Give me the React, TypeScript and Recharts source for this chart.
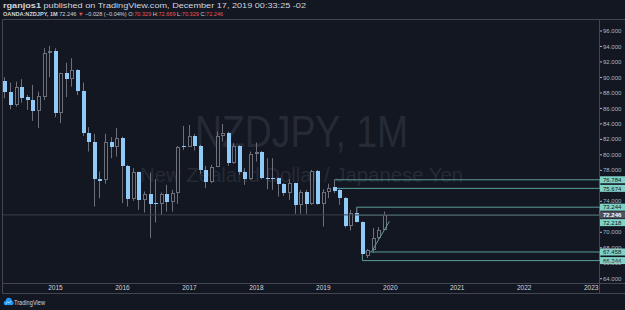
import React from 'react';
import { ComposedChart, Bar, XAxis, YAxis, ReferenceLine, ReferenceArea } from 'recharts';

// monthly candles, first one is April 2014
const FIRST_MONTH = 2014 + 3 / 12;

const opens = [
  89.59, 88.17, 86.45, 88.81, 87.45, 87.1, 85.68, 87.52, 93.12,
  93.46, 85.38, 90.54, 89.77, 90.97, 88.3, 82.88, 81.72, 76.9, 76.77, 81.72, 81.07,
  82.23, 78.58, 74.28, 77.77, 74.19, 74.97, 73.72, 73.59, 74.97, 73.85, 75.06, 81.16,
  81.07, 82.49, 81.16, 78.06, 76.55, 78.49, 82.49, 82.88, 78.93, 81.16, 77.85, 76.86,
  80.09, 80.43, 76.99, 77.0, 76.99, 76.26, 75.06, 76.35, 73.55, 75.26, 73.68, 77.97,
  73.68, 75.26, 75.83, 75.48, 74.41, 70.75, 72.48, 71.32, 66.97, 67.65, 69.25, 70.329,
];
const highs = [
  90.03, 89.33, 89.46, 89.77, 87.74, 89.03, 88.17, 93.77, 94.06,
  93.77, 90.62, 91.91, 92.48, 91.05, 89.33, 83.57, 82.71, 77.85, 82.71, 82.28, 83.45,
  82.35, 78.7, 78.28, 77.85, 75.26, 77.72, 76.86, 75.14, 76.13, 75.48, 81.16, 83.74,
  83.87, 82.71, 81.3, 78.58, 78.71, 83.01, 84.0, 83.01, 81.51, 81.25, 78.28, 80.43,
  81.59, 80.5, 79.57, 79.57, 77.05, 76.35, 76.86, 76.4, 75.48, 75.48, 78.06, 78.06,
  75.57, 76.26, 76.77, 75.55, 74.54, 72.9, 73.25, 71.39, 67.83, 70.54, 70.67, 72.669,
];
const lows = [
  87.32, 85.9, 86.23, 86.75, 85.81, 84.39, 83.45, 87.1, 90.03,
  84.86, 84.09, 87.45, 88.81, 87.74, 82.45, 80.43, 73.33, 74.41, 76.26, 79.57, 79.78,
  73.77, 73.33, 74.06, 72.9, 72.55, 69.25, 71.26, 72.26, 72.68, 72.68, 73.68, 80.65,
  80.99, 80.55, 77.55, 75.7, 76.35, 78.41, 81.72, 78.58, 78.84, 77.42, 76.13, 76.77,
  79.14, 76.86, 75.57, 75.48, 74.62, 74.71, 74.19, 72.39, 72.39, 72.39, 73.55, 73.55,
  70.75, 74.41, 75.06, 73.55, 70.6, 70.23, 71.26, 66.97, 66.67, 67.32, 69.12, 70.329,
];
const closes = [
  88.09, 86.45, 88.81, 87.39, 87.1, 85.68, 87.61, 93.12, 93.46,
  85.38, 90.54, 89.77, 90.97, 88.26, 82.88, 81.72, 76.86, 76.68, 81.72, 81.07, 82.23,
  78.58, 74.28, 77.77, 74.19, 74.97, 73.68, 73.59, 74.97, 73.85, 75.06, 81.07, 80.99,
  82.49, 81.16, 78.06, 76.55, 78.49, 82.49, 82.88, 78.93, 81.16, 77.85, 76.86, 80.09,
  80.43, 76.99, 76.9, 76.92, 76.26, 75.06, 76.35, 73.55, 75.26, 73.68, 77.97, 73.68,
  75.26, 75.78, 75.39, 74.41, 70.75, 72.48, 71.39, 67.19, 67.65, 69.25, 70.33, 72.246,
];

const YEAR_TICKS = [2015, 2016, 2017, 2018, 2019, 2020, 2021, 2022, 2023];
const PRICE_TICKS = [64, 66, 68, 70, 72, 74, 76, 78, 80, 82, 84, 86, 88, 90, 92, 94, 96];
// axis labels fully covered by the price tags
const HIDDEN_TICKS = [72, 76];
const LAST_PRICE = 72.246;

// drawn rectangles (zones)
const ZONE_STARTS = [2019 + 2 / 12, 2019 + 6 / 12, 2019 + 7 / 12];
const ZONE_TOPS = [76.784, 73.244, 67.458];
const ZONE_BOTTOMS = [75.674, 72.218, 66.344];

// drawn trend line
const TREND_X = [2019.722, 2019.985];
const TREND_Y = [67.52, 71.39];

const X_DOMAIN = [2014.216, 2023.132];
const Y_DOMAIN = [63.45, 97.55];

const BG = '#131722';
const BLUE = '#90caf9';
const GREY = '#6d707b';
const TEAL_LINE = '#5c9e98';
const TEAL_TAG = '#80d2c6';
const FONT = '"Liberation Sans", Arial, sans-serif';

const data = opens.map((open, i) => ({
  t: FIRST_MONTH + i / 12,
  open,
  high: highs[i],
  low: lows[i],
  close: closes[i],
}));

const Candle = (props: any) => {
  const { x, y, width, height, payload } = props;
  if (x == null || !payload) return null;
  const { open, high, low, close } = payload;
  const top = Math.min(y, y + height);
  const h = Math.abs(height);
  const ratio = h / (high - low);
  const bodyTop = Math.round(top + (high - Math.max(open, close)) * ratio);
  const bodyBot = Math.round(top + (high - Math.min(open, close)) * ratio);
  const bx = Math.round(x + width / 2 - 2);
  const up = close > open;
  return (
    <g>
      <line x1={bx + 1.5} x2={bx + 1.5} y1={top} y2={top + h} stroke={GREY} strokeWidth={1} />
      {up ? (
        <rect x={bx + 0.5} y={bodyTop + 0.5} width={3} height={Math.max(bodyBot - bodyTop - 1, 0.5)}
          fill={BG} stroke={GREY} strokeWidth={1} />
      ) : (
        <rect x={bx} y={bodyTop} width={4} height={Math.max(bodyBot - bodyTop, 1)} fill={BLUE} />
      )}
    </g>
  );
};

const PriceTick = (props: any) => {
  const { x, y, payload } = props;
  if (HIDDEN_TICKS.includes(payload.value)) return null;
  return (
    <g>
      <line x1={x - 3} x2={x - 1} y1={y} y2={y} stroke="#b2b5be" />
      <text x={x} y={y + 2.1} fontSize={6} fontFamily={FONT} fill="#b2b5be">
        {payload.value.toFixed(3)}
      </text>
    </g>
  );
};

const PriceTag = (props: any) => {
  const { viewBox, value, bg, fg, dy = 0 } = props;
  if (!viewBox) return null;
  const x = viewBox.x + viewBox.width;
  const y = viewBox.y + dy;
  return (
    <g>
      <rect x={x} y={y - 3.5} width={25} height={7} fill={bg} />
      <text x={x + 3} y={y + 2.2} fontSize={6} fontFamily={FONT} fill={fg} fontWeight={bg === TEAL_TAG ? 400 : 700}>
        {value.toFixed(3)}
      </text>
    </g>
  );
};

const tagNudge: Record<string, number> = { '72.218': 7.5 };

export default function App() {
  const zoneTags = [...ZONE_TOPS, ...ZONE_BOTTOMS];
  return (
    <div style={{ position: 'absolute', left: 0, top: 0, width: 625, height: 310, background: BG, overflow: 'hidden' }}>
      {/* frame, header, watermark, footer */}
      <svg width={625} height={310} style={{ position: 'absolute', left: 0, top: 0 }}>
        <g stroke="#434651" strokeWidth={1}>
          <line x1={2.5} x2={625} y1={19.5} y2={19.5} />
          <line x1={2.5} x2={2.5} y1={19.5} y2={293.5} />
          <line x1={599.5} x2={599.5} y1={19.5} y2={293.5} />
          <line x1={2.5} x2={625} y1={283.5} y2={283.5} />
          <line x1={2.5} x2={625} y1={293.5} y2={293.5} />
        </g>
        <text x={301.5} y={147} textAnchor="middle" fontSize={44} fontFamily={FONT} fill="#262a35"
          textLength={213} lengthAdjust="spacingAndGlyphs">NZDJPY, 1M</text>
        <text x={301.5} y={182} textAnchor="middle" fontSize={21} fontFamily={FONT} fill="#262a35"
          textLength={323} lengthAdjust="spacingAndGlyphs">New Zealand Dollar / Japanese Yen</text>
        <text x={3} y={8} fontSize={7.5} fontFamily={FONT} fill="#d1d4dc" textLength={303} lengthAdjust="spacingAndGlyphs">
          <tspan fontWeight={700}>rganjos1</tspan> published on TradingView.com, December 17, 2019 00:33:25 -02
        </text>
        <text x={3} y={16} fontSize={5.6} fontFamily={FONT} fill="#d1d4dc">
          <tspan fontWeight={700}>OANDA:NZDJPY, 1M</tspan> 72.246 <tspan fill="#ef5350">▼</tspan> −0.028 (−0.04%) O:
          <tspan fill="#ef5350">70.329</tspan> H:<tspan fill="#ef5350">72.669</tspan> L:
          <tspan fill="#ef5350">70.329</tspan> C:<tspan fill="#ef5350">72.246</tspan>
        </text>
        <g fill="#2196f3">
          <circle cx={6} cy={303} r={2.3} />
          <circle cx={8.8} cy={300.8} r={3} />
          <circle cx={11.6} cy={303} r={2.1} />
          <rect x={5} y={302.5} width={7.5} height={2.6} />
        </g>
        <path d="M5.5 304 L7.8 301.8 L9.3 303 L11.5 300.8" stroke="#fff" strokeWidth={0.7} fill="none" />
        <text x={14} y={305} fontSize={6.5} fontFamily={FONT} fill="#d1d4dc" textLength={31} lengthAdjust="spacingAndGlyphs">TradingView</text>
      </svg>

      <div style={{ position: 'absolute', left: 0, top: 0 }}>
        <ComposedChart width={625} height={310} data={data} margin={{ top: 19, right: 0, bottom: 17, left: 3 }}>
          <XAxis dataKey="t" type="number" domain={X_DOMAIN} allowDataOverflow ticks={YEAR_TICKS}
            tickFormatter={(v: number) => String(v)} height={10} axisLine={false} tickLine={false}
            tickSize={0} tickMargin={2} interval={0}
            tick={{ fill: '#d1d4dc', fontSize: 6.5, fontFamily: FONT }} />
          <YAxis orientation="right" type="number" domain={Y_DOMAIN} allowDataOverflow ticks={PRICE_TICKS}
            width={25} axisLine={false} tickLine={false} tickSize={3} tickMargin={0} interval={0}
            tick={<PriceTick />} />
          {ZONE_STARTS.map((s, i) => (
            <ReferenceArea key={'z' + i} x1={s} x2={X_DOMAIN[1]} y1={ZONE_BOTTOMS[i]} y2={ZONE_TOPS[i]}
              fill="none" stroke={TEAL_LINE} strokeWidth={1} ifOverflow="visible" />
          ))}
          <ReferenceLine y={LAST_PRICE} stroke="#3a3e49" strokeWidth={1} />
          <Bar dataKey={(d: any) => [d.low, d.high]} shape={(p: any) => <Candle {...p} />}
            barSize={4} isAnimationActive={false} />
          <ReferenceLine segment={[{ x: TREND_X[0], y: TREND_Y[0] }, { x: TREND_X[1], y: TREND_Y[1] }]}
            stroke={TEAL_LINE} strokeWidth={1} ifOverflow="visible" />
          {zoneTags.map((v) => (
            <ReferenceLine key={'t' + v} y={v} stroke="none" ifOverflow="visible"
              label={(lp: any) => <PriceTag {...lp} value={v} bg={TEAL_TAG} fg={BG} dy={tagNudge[v.toFixed(3)] || 0} />} />
          ))}
          <ReferenceLine y={LAST_PRICE} stroke="none" ifOverflow="visible"
            label={(lp: any) => <PriceTag {...lp} value={LAST_PRICE} bg="#50535e" fg="#ffffff" />} />
        </ComposedChart>
      </div>
    </div>
  );
}
